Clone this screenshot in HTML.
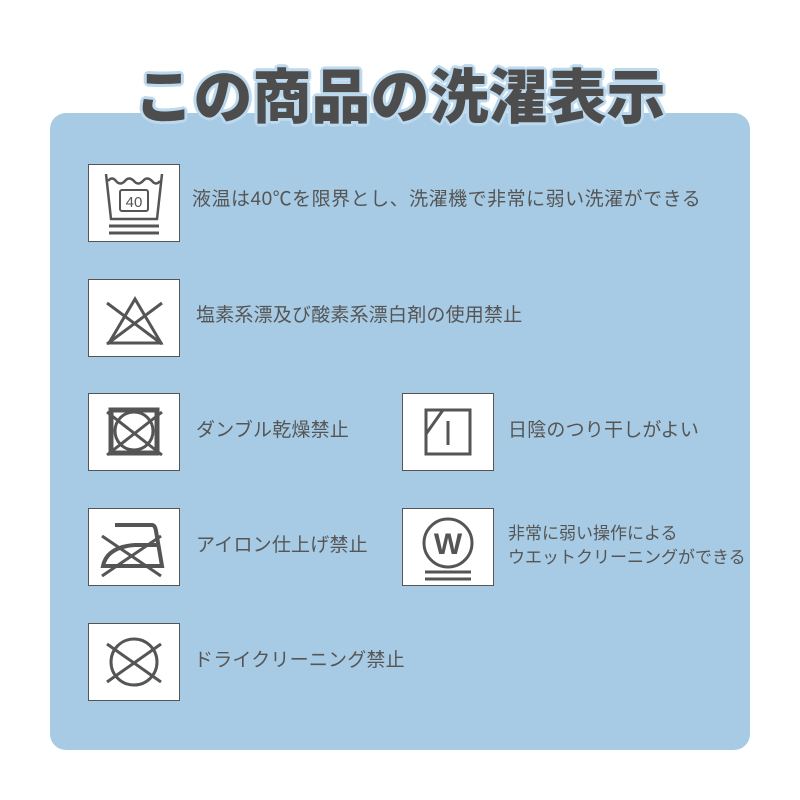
<!DOCTYPE html>
<html><head><meta charset="utf-8"><style>
body{margin:0;width:800px;height:800px;background:#fff;position:relative;overflow:hidden;font-family:"Liberation Sans","Noto Sans CJK JP",sans-serif}
.panel{position:absolute;left:50px;top:113px;width:700px;height:637px;background:#a7cbe4;border-radius:16px}
.title{position:absolute;left:0;width:800px;top:58px;text-align:center;font-size:59px;font-weight:900;color:#4d4d4d;letter-spacing:0px;text-shadow:0 0 3px #bcd9ee,2px 2px 0 #bcd9ee,-2px -2px 0 #bcd9ee,2px -2px 0 #bcd9ee,-2px 2px 0 #bcd9ee,3px 0 0 #bcd9ee,-3px 0 0 #bcd9ee,0 3px 0 #bcd9ee,0 -3px 0 #bcd9ee;line-height:80px;z-index:2}
.box{position:absolute;width:90px;height:76px;background:#fff;border:1px solid #555}
.box svg{position:absolute;left:0;top:0}
.t{position:absolute;font-size:19px;color:#555;line-height:24px;white-space:nowrap;letter-spacing:0.2px}
</style></head><body>
<div class="panel"></div>
<div class="title">この商品の洗濯表示</div>

<div class="box" style="left:88px;top:164px"><svg width="90" height="76" stroke="#555" fill="none" stroke-width="2.5">
<path d="M17 9 L22 54 L68 54 L73 9"/><path d="M19 16 q4 -5 8 0 q4 5 9 0 q4 -5 9 0 q4 5 9 0 q4 -5 9 0 q4 5 8 0"/>
<rect x="31" y="25" width="28" height="21" rx="2" stroke-width="2"/>
<text x="45" y="42" font-size="15" fill="#555" stroke="none" text-anchor="middle" font-family="Liberation Sans">40</text>
<line x1="20" y1="61" x2="70" y2="61" stroke-width="3"/><line x1="20" y1="68" x2="70" y2="68" stroke-width="3"/></svg></div>
<div class="t" style="left:192px;top:188px;letter-spacing:0.5px">液温は40℃を限界とし、洗濯機で非常に弱い洗濯ができる</div>

<div class="box" style="left:88px;top:279px"><svg width="90" height="76" stroke="#555" fill="none" stroke-width="3">
<path d="M46 19 L20 63 L72 63 Z"/><line x1="18" y1="23" x2="73" y2="64"/><line x1="18" y1="64" x2="73" y2="23"/></svg></div>
<div class="t" style="left:196px;top:304px">塩素系漂及び酸素系漂白剤の使用禁止</div>

<div class="box" style="left:88px;top:393px"><svg width="90" height="76" stroke="#555" fill="none" stroke-width="3">
<rect x="22" y="16" width="46" height="43" stroke-width="5"/><circle cx="45" cy="37" r="19"/><line x1="18" y1="18" x2="73" y2="61"/><line x1="18" y1="61" x2="73" y2="18"/></svg></div>
<div class="t" style="left:196px;top:419px">ダンブル乾燥禁止</div>

<div class="box" style="left:402px;top:393px"><svg width="90" height="76" stroke="#555" fill="none" stroke-width="3">
<rect x="23" y="16" width="44" height="44"/><line x1="23" y1="40" x2="40" y2="16"/><line x1="45" y1="27" x2="45" y2="51"/></svg></div>
<div class="t" style="left:508px;top:419px">日陰のつり干しがよい</div>

<div class="box" style="left:88px;top:508px"><svg width="90" height="76" stroke="#555" fill="none" stroke-width="3">
<path d="M26 16 L63 16 Q66 16 67 22 L73 57 L14 57 Q18 38 46 36 L68 36" stroke-width="4"/><line x1="13" y1="27" x2="72" y2="67"/><line x1="13" y1="67" x2="72" y2="27"/></svg></div>
<div class="t" style="left:196px;top:534px">アイロン仕上げ禁止</div>

<div class="box" style="left:402px;top:508px"><svg width="90" height="76" stroke="#555" fill="none" stroke-width="3">
<circle cx="45" cy="34" r="24"/><text x="45" y="45" font-size="30" font-weight="bold" fill="#555" stroke="none" text-anchor="middle" font-family="Liberation Sans">W</text>
<line x1="22" y1="63" x2="68" y2="63"/><line x1="22" y1="70" x2="68" y2="70"/></svg></div>
<div class="t" style="left:508px;top:522px;font-size:17px;letter-spacing:0">非常に弱い操作による<br>ウエットクリーニングができる</div>

<div class="box" style="left:88px;top:623px"><svg width="90" height="76" stroke="#555" fill="none" stroke-width="3">
<circle cx="45" cy="38" r="23"/><line x1="18" y1="20" x2="72" y2="58"/><line x1="18" y1="58" x2="72" y2="20"/></svg></div>
<div class="t" style="left:194px;top:649px">ドライクリーニング禁止</div>
</body></html>
